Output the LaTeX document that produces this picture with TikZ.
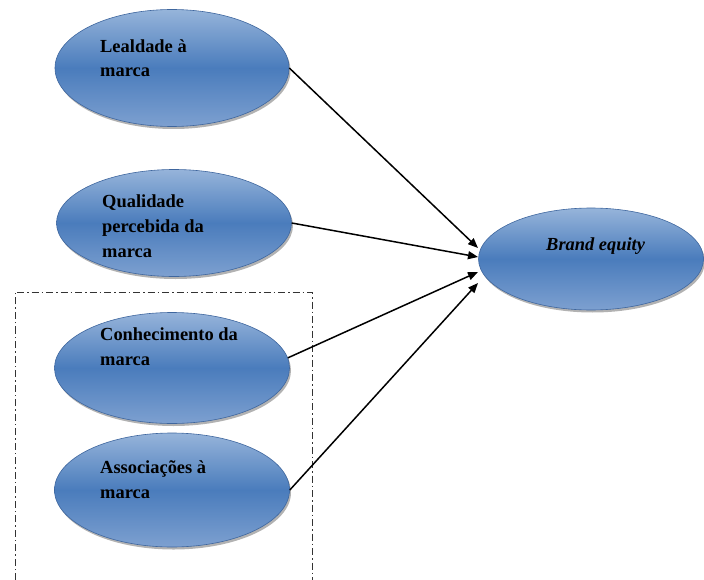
\documentclass[tikz,border=0pt]{standalone}
\usepackage{fontspec}
\setmainfont{Liberation Serif}
\usetikzlibrary{shapes.geometric,arrows.meta,shadows}

\definecolor{blueTop}{RGB}{150,180,218}
\definecolor{blueMid}{RGB}{74,124,188}
\definecolor{blueBot}{RGB}{125,160,208}
\definecolor{blueRim}{RGB}{62,102,158}

\tikzset{
  factor/.style={ellipse, inner sep=0pt, top color=blueTop, bottom color=blueBot,
    middle color=blueMid, draw=blueRim, line width=0.6bp,
    drop shadow={shadow xshift=1.5bp, shadow yshift=-2.5bp, fill=black, opacity=0.3}},
  % multi-line labels are placed by the baseline of their last line
  lbl/.style={anchor=base west, align=left, inner sep=0pt, text=black,
    font=\fontsize{18.5}{25}\selectfont\bfseries},
  link/.style={-{Triangle[length=10bp,width=8bp]}, line width=1.5bp, black},
  group/.style={dash pattern=on 7bp off 3bp on 1.5bp off 3bp, line width=1bp, black!80}
}

\begin{document}
\begin{tikzpicture}[x=1bp, y=-1bp]
  \useasboundingbox (0,0) rectangle (704,580);

  % dash-dotted frame round the two knowledge dimensions
  \draw[group] (15,580) -- (15,292) -- (312,292) -- (312,580);

  % dimensions of brand equity
  \node[factor, minimum width=234bp, minimum height=117bp] (e1) at (172,68) {};
  \node[factor, minimum width=235bp, minimum height=107bp] (e2) at (174,223) {};
  \node[factor, minimum width=235bp, minimum height=111bp] (e3) at (172,368) {};
  \node[factor, minimum width=235bp, minimum height=114bp] (e4) at (172,490) {};
  \node[factor, minimum width=225bp, minimum height=102bp] (be) at (591,259) {};

  \node[lbl] (t1) at (100,77) {Lealdade à\\marca};
  \node[lbl] (t2) at (102,257) {Qualidade\\percebida da\\marca};
  \node[lbl] (t3) at (100,365) {Conhecimento da\\marca};
  \node[lbl] (t4) at (100,498) {Associações à\\marca};
  \node[lbl, font=\fontsize{18.5}{25}\selectfont\bfseries\itshape] (tb) at (546,250) {Brand equity};

  % arrow tips on the left side of the brand equity ellipse
  \coordinate (a1) at (478,248);
  \coordinate (a2) at (478,257);
  \coordinate (a3) at (478,272);
  \coordinate (a4) at (478,283);

  \draw[link] (e1.east) -- (a1);
  \draw[link] (e2.east) -- (a2);
  \draw[link] (e3.5) -- (a3);
  \draw[link] (e4.east) -- (a4);
\end{tikzpicture}
\end{document}
